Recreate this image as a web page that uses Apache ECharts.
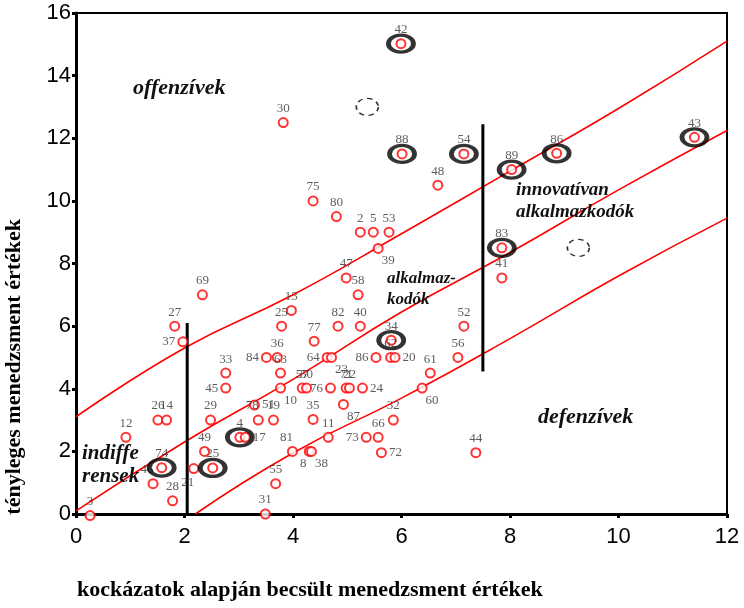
<!DOCTYPE html>
<html><head><meta charset="utf-8">
<script src="https://cdn.jsdelivr.net/npm/echarts@6/dist/echarts.min.js"></script>
<style>html,body{margin:0;padding:0;background:#fff}#c{width:744px;height:608px}</style>
</head><body><div id="c"></div>
<script>
// point labels, x (estimated by risk), y (actual)
const labels = ['3','12','26','14','74','46','28','27','69','37','21','49','25','29','33','45','4','17','51','78','19','84','36','63','10','81','55','31','25','13','77','75','80','2','5','53','39','47','58','82','40','52','48','30','42','88','54','89','86','43','83','41','34','64','23','86','62','20','61','56','60','57','50','76','71','22','24','87','35','11','32','73','66','72','44','8','38'];
const xVals = [0.26,0.92,1.51,1.67,1.58,1.42,1.78,1.82,2.33,1.97,2.17,2.37,2.52,2.48,2.76,2.76,3.02,3.12,3.29,3.36,3.64,3.51,3.71,3.77,3.77,3.99,3.68,3.49,3.79,3.97,4.39,4.37,4.80,5.24,5.48,5.77,5.57,4.98,5.20,4.83,5.24,7.15,6.67,3.82,5.99,6.01,7.15,8.03,8.86,11.40,7.85,7.85,5.81,4.63,4.71,5.53,5.80,5.88,6.53,7.04,6.38,4.17,4.25,4.69,4.98,5.04,5.28,4.93,4.37,4.65,5.85,5.35,5.57,5.63,7.37,4.30,4.34];
const yVals = [-0.05,2.45,3.0,3.0,1.48,0.97,0.42,6.0,7.0,5.5,1.45,2.0,1.47,3.0,4.5,4.02,2.45,2.45,3.48,3.0,3.0,5.0,5.0,4.5,4.02,2.0,0.97,0.0,6.0,6.5,5.52,10.0,9.5,9.0,9.0,9.0,8.48,7.54,7.0,6.0,6.0,6.0,10.5,12.5,15.02,11.5,11.5,11.0,11.52,12.03,8.5,7.54,5.55,5.0,5.0,5.0,5.0,5.0,4.5,5.0,4.02,4.02,4.02,4.02,4.02,4.02,4.02,3.5,3.02,2.45,3.0,2.45,2.45,1.96,1.96,2.0,2.0];
// which points are circled (indices into arrays above)
const circledIdx = [4,12,16,44,45,46,47,48,49,50,52];
// dashed empty marks
const dashedX = [5.37,9.26];
const dashedY = [13.0,8.5];
// three parallel red bands
const lineAX = [0,2,4,6,8,10,12];
const lineAY = [3.1,5.3,7.0,8.95,10.95,12.95,15.1];
const lineBX = [0,2,4,6,8,10,12];
const lineBY = [0.1,2.3,4.3,6.45,8.35,10.35,12.25];
const lineCX = [2.2,4,6,8,10,12];
const lineCY = [0,1.95,3.7,5.6,7.6,9.45];
// vertical separators
const vert1X = [2.05,2.05], vert1Y = [0,6.1];
const vert2X = [7.5,7.5], vert2Y = [4.55,12.45];
const xTicks = [0,2,4,6,8,10,12];
const yTicks = [0,2,4,6,8,10,12,14,16];

// label placement styles (by index)
const labelPos = {9:'left',10:'bottom',15:'left',17:'right',18:'right',21:'left',24:'bottom',36:'bottom',53:'left',54:'bottom',55:'left',57:'right',60:'bottom',63:'left',66:'right',67:'bottom',71:'left',73:'right',75:'bottom',76:'bottom'};
const labelOffset = {10:[-6,0],24:[10,-2],36:[10,-2],54:[10,-2],60:[10,-2],67:[10,-2],75:[-6,-2],76:[10,-2],19:[-6,0],25:[-6,0],5:[-6,0]};

const pts = labels.map((l,i)=>{
  const d = {name:l, value:[xVals[i], yVals[i]]};
  const lab = {};
  if (labelPos[i]) lab.position = labelPos[i];
  if (labelOffset[i]) lab.offset = labelOffset[i];
  if (Object.keys(lab).length) d.label = lab;
  return d;
});
const zip = (a,b)=>a.map((v,i)=>[v,b[i]]);
const redLine = (x,y)=>({type:'line',data:zip(x,y),symbol:'none',smooth:true,lineStyle:{color:'#ff0000',width:1.6},silent:true,z:2});
const blackLine = (x,y)=>({type:'line',data:zip(x,y),symbol:'none',lineStyle:{color:'#000',width:3},silent:true,z:2});

const serif = 'Liberation Serif';
const chart = echarts.init(document.getElementById('c'),null,{renderer:'canvas'});
const annot = (txt,left,top,size)=>({type:'text',left:left,top:top,style:{text:txt,font:'italic bold '+size+'px "'+serif+'"',fill:'#111'},z:20});
chart.setOption({
  animation:false,
  backgroundColor:'#fff',
  grid:{left:76,right:17,top:13,bottom:94,show:true,borderColor:'#000',borderWidth:2,backgroundColor:'transparent'},
  xAxis:{type:'value',min:0,max:12,interval:2,splitLine:{show:false},
    axisLine:{lineStyle:{color:'#000',width:3}},axisTick:{length:4,lineStyle:{width:3,color:'#000'}},
    axisLabel:{color:'#000',fontFamily:'Liberation Sans',fontSize:22,margin:12,formatter:v=>xTicks.includes(v)?String(v):''}},
  yAxis:{type:'value',min:0,max:16,interval:2,splitLine:{show:false},
    axisLine:{lineStyle:{color:'#000',width:3}},axisTick:{length:4,lineStyle:{width:3,color:'#000'}},
    axisLabel:{color:'#000',fontFamily:'Liberation Sans',fontSize:22,margin:5,formatter:v=>yTicks.includes(v)?String(v):''}},
  graphic:[
    annot('offenzívek',133,77,22),
    annot('innovatívan',516,181,19),
    annot('alkalmazkodók',516,203,19),
    annot('alkalmaz-',387,270,17),
    annot('kodók',387,291,17),
    annot('defenzívek',538,406,22),
    annot('indiffe',82,443,21),
    annot('rensek',82,466,21),
    {type:'text',left:77,top:579,style:{text:'kockázatok alapján becsült menedzsment értékek',font:'bold 22px "'+serif+'"',fill:'#000'}},
    {type:'text',left:3,top:219,rotation:Math.PI/2,style:{text:'tényleges menedzsment értékek',font:'bold 22px "'+serif+'"',fill:'#000'}}
  ],
  series:[
    redLine(lineAX,lineAY), redLine(lineBX,lineBY), redLine(lineCX,lineCY),
    blackLine(vert1X,vert1Y), blackLine(vert2X,vert2Y),
    {type:'scatter',data:pts,symbol:'emptyCircle',symbolSize:9,clip:false,z:5,
      itemStyle:{color:'#ff0000',borderColor:'#ff0000',borderWidth:1.6},
      label:{show:true,formatter:'{b}',position:'top',distance:2,color:'#333',fontFamily:serif,fontSize:13}},
    {type:'scatter',data:circledIdx.map(i=>[xVals[i],yVals[i]]),symbol:'circle',symbolSize:[25,17],z:6,silent:true,
      itemStyle:{color:'rgba(0,0,0,0)',borderColor:'#000',borderWidth:4}},
    {type:'scatter',data:zip(dashedX,dashedY),symbol:'circle',symbolSize:[22,17],z:6,silent:true,
      itemStyle:{color:'rgba(0,0,0,0)',borderColor:'#000',borderWidth:1.5,borderType:[5,4]}}
  ]
});
</script></body></html>
